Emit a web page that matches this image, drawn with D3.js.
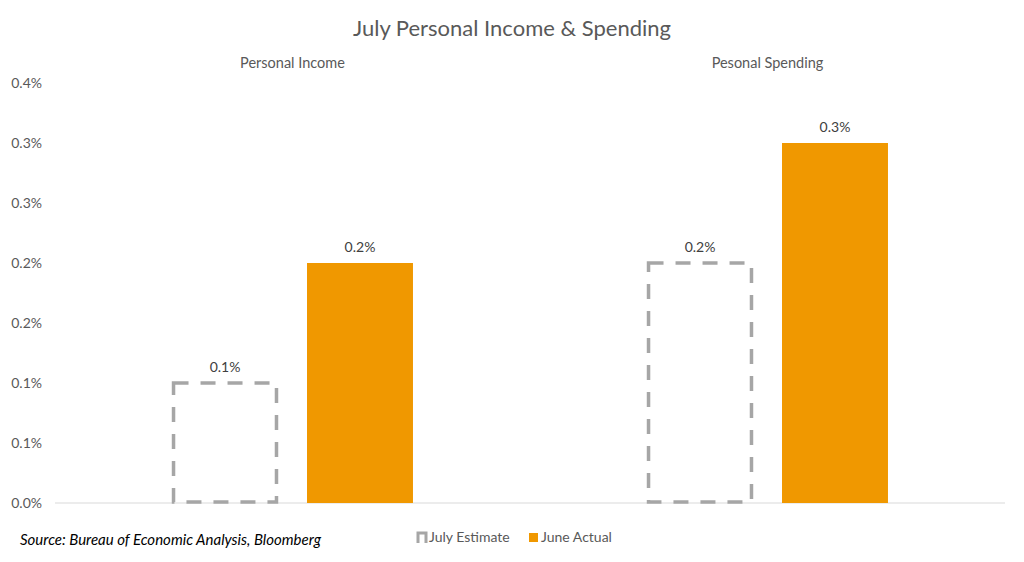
<!DOCTYPE html>
<html><head><meta charset="utf-8">
<script src="https://cdn.jsdelivr.net/npm/d3@7"></script>
<style>body{margin:0;background:#fff;} svg{display:block;font-family:Lato,"Open Sans",sans-serif;}</style>
</head><body>
<svg id="c" width="1024" height="562"></svg>
<script>
const title = "July Personal Income & Spending";
const categories = ["Personal Income", "Pesonal Spending"];
const seriesNames = ["July Estimate", "June Actual"];
const julyEstimate = [0.1, 0.2];
const juneActual = [0.2, 0.3];
const yTicks = [0, 0.05, 0.1, 0.15, 0.2, 0.25, 0.3, 0.35];
const sourceText = "Source: Bureau of Economic Analysis, Bloomberg";

(function () {
const svg = d3.select("#c");
const mLeft = 55, mRight = 1005, mTop = 83, mBottom = 503;
const x0 = d3.scaleBand().domain(categories).range([mLeft, mRight]);
const x1 = d3.scaleBand().domain(seriesNames).range([0, x0.bandwidth()]).paddingInner(0.215).paddingOuter(0.867);
const y = d3.scaleLinear().domain([0, 0.35]).range([mBottom, mTop]);
const fmt = v => (Math.round(v * 10 + 1e-9) / 10).toFixed(1) + "%";

svg.append("text").attr("x", 512).attr("y", 36).attr("text-anchor", "middle")
  .attr("font-size", 22).attr("fill", "#595959").text(title);

const yAxis = d3.axisLeft(y).tickValues(yTicks).tickFormat(fmt).tickSize(0).tickPadding(0);
const ga = svg.append("g").attr("transform", `translate(42,0)`).call(yAxis);
ga.select(".domain").remove();
ga.selectAll("text").attr("font-size", 14).attr("fill", "#595959").attr("font-family", "Lato,'Open Sans',sans-serif");

svg.append("line").attr("x1", mLeft).attr("x2", mRight).attr("y1", y(0)).attr("y2", y(0))
  .attr("stroke", "#D9D9D9").attr("stroke-width", 1);

svg.selectAll(".cat").data(categories).join("text")
  .attr("x", d => x0(d) + x0.bandwidth() / 2).attr("y", 68).attr("text-anchor", "middle")
  .attr("font-size", 14.5).attr("fill", "#595959").text(d => d);

const data = categories.map((c, i) => ({c, vals: [
  {s: seriesNames[0], v: julyEstimate[i]}, {s: seriesNames[1], v: juneActual[i]}]}));

const g = svg.selectAll(".grp").data(data).join("g").attr("transform", d => `translate(${x0(d.c)},0)`);
g.selectAll("rect").data(d => d.vals).join("rect")
  .attr("x", d => x1(d.s) + (d.s === seriesNames[0] ? 1.5 : 0))
  .attr("y", d => y(d.v))
  .attr("width", d => x1.bandwidth() - (d.s === seriesNames[0] ? 3 : 0))
  .attr("height", d => y(0) - y(d.v) - (d.s === seriesNames[0] ? 1 : 0))
  .attr("fill", d => d.s === seriesNames[0] ? "none" : "#F09800")
  .attr("stroke", d => d.s === seriesNames[0] ? "#A6A6A6" : "none")
  .attr("stroke-width", 3.5)
  .attr("stroke-dasharray", d => d.s === seriesNames[0] ? "15,12" : null);
g.selectAll(".lbl").data(d => d.vals).join("text")
  .attr("x", d => x1(d.s) + x1.bandwidth() / 2).attr("y", d => y(d.v) - 11)
  .attr("text-anchor", "middle").attr("font-size", 14).attr("fill", "#404040")
  .text(d => fmt(d.v));

svg.append("text").attr("x", 20).attr("y", 545).attr("font-size", 15).attr("font-style", "italic")
  .attr("fill", "#000").text(sourceText);

const leg = svg.append("g");
const lx = [417, 529];
seriesNames.forEach((s, i) => {
  if (i === 0) {
    leg.append("path").attr("d", `M${lx[i]+1},543 V533 H${lx[i]+9} V543`)
      .attr("fill", "none").attr("stroke", "#A6A6A6").attr("stroke-width", 3);
  } else {
    leg.append("rect").attr("x", lx[i]).attr("y", 533).attr("width", 9).attr("height", 9).attr("fill", "#F09800");
  }
  leg.append("text").attr("x", lx[i] + 12).attr("y", 542).attr("font-size", 14).attr("fill", "#595959").text(s);
});
})();
</script>
</body></html>
